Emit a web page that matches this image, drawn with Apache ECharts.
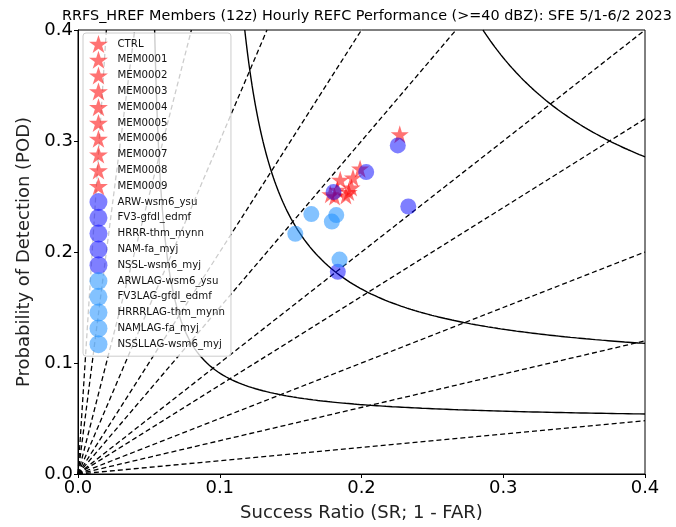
<!DOCTYPE html>
<html>
<head>
<meta charset="utf-8">
<script src="https://cdn.jsdelivr.net/npm/echarts@6/dist/echarts.min.js"></script>
<style>
  html, body { margin: 0; padding: 0; background: #fff; }
  #chart { width: 676px; height: 527px; }
</style>
</head>
<body>
<div id="chart"></div>
<script>
// members (stars)
var starNames = ['CTRL', 'MEM0001', 'MEM0002', 'MEM0003', 'MEM0004', 'MEM0005', 'MEM0006', 'MEM0007', 'MEM0008', 'MEM0009'];
var starSR = [0.227, 0.199, 0.194, 0.185, 0.191, 0.181, 0.193, 0.183, 0.189, 0.178];
var starPOD = [0.306, 0.275, 0.267, 0.265, 0.254, 0.250, 0.258, 0.256, 0.251, 0.252];

// HREF members (dark blue)
var coreNames = ['ARW-wsm6_ysu', 'FV3-gfdl_edmf', 'HRRR-thm_mynn', 'NAM-fa_myj', 'NSSL-wsm6_myj'];
var coreSR = [0.2256, 0.2033, 0.1803, 0.2330, 0.1833];
var corePOD = [0.2960, 0.2720, 0.2540, 0.2410, 0.1821];

// time-lagged HREF members (light blue)
var lagNames = ['ARWLAG-wsm6_ysu', 'FV3LAG-gfdl_edmf', 'HRRRLAG-thm_mynn', 'NAMLAG-fa_myj', 'NSSLLAG-wsm6_myj'];
var lagSR = [0.1646, 0.1822, 0.1791, 0.1533, 0.1845];
var lagPOD = [0.2342, 0.2333, 0.2274, 0.2164, 0.1932];

// background reference lines
var biasLevels = [0.12, 0.3, 0.5, 0.8, 1, 1.5, 2, 3, 5, 10, 20];
var csiLevels = [0.05, 0.1, 0.2];
var axisTicks = [0, 0.1, 0.2, 0.3, 0.4];

var axMax = axisTicks[axisTicks.length - 1];
var starPath = 'path://M50,0 L61.2,34.5 L97.6,34.5 L68.2,55.9 L79.4,90.5 L50,69.1 L20.6,90.5 L31.8,55.9 L2.4,34.5 L38.8,34.5 Z';
var font = 'DejaVu Sans';

var chart = echarts.init(document.getElementById('chart'));

var series = [];

// bias lines (dashed)
biasLevels.forEach(function (b) {
    var end = b >= 1 ? [axMax / b, axMax] : [axMax, axMax * b];
    series.push({
        type: 'line',
        data: [[0, 0], end],
        showSymbol: false,
        silent: true,
        z: 1,
        lineStyle: { color: '#000', width: 1.3, type: [5, 3] }
    });
});

// CSI curves (solid)
csiLevels.forEach(function (c) {
    var srMin = 1 / (1 / c + 1 - 1 / axMax);
    var pts = [];
    var n = 200;
    for (var i = 0; i <= n; i++) {
        var sr = srMin * Math.pow(axMax / srMin, i / n);
        var pod = 1 / (1 / c + 1 - 1 / sr);
        pts.push([sr, pod]);
    }
    series.push({
        type: 'line',
        data: pts,
        showSymbol: false,
        silent: true,
        z: 1,
        lineStyle: { color: '#000', width: 1.4 }
    });
});

function addPoints(names, sr, pod, symbol, size, color) {
    names.forEach(function (name, i) {
        series.push({
            name: name,
            type: 'scatter',
            symbol: symbol,
            symbolSize: size,
            z: 3,
            itemStyle: { color: color, opacity: 1 },
            data: [[sr[i], pod[i]]]
        });
    });
}
addPoints(starNames, starSR, starPOD, starPath, 18, 'rgba(255,0,0,0.55)');
addPoints(coreNames, coreSR, corePOD, 'circle', 16, 'rgba(0,0,255,0.5)');
addPoints(lagNames, lagSR, lagPOD, 'circle', 16, 'rgba(30,144,255,0.55)');

var option = {
    animation: false,
    title: {
        text: 'RRFS_HREF Members (12z) Hourly REFC Performance (>=40 dBZ): SFE 5/1-6/2 2023',
        left: 57,
        top: 4,
        textStyle: { fontFamily: font, fontSize: 14.4, fontWeight: 'normal', color: '#000' }
    },
    grid: {
        left: 78, right: 31, top: 30, bottom: 49,
        show: true, borderColor: '#000', borderWidth: 1
    },
    legend: {
        orient: 'vertical',
        left: 83,
        top: 33,
        padding: [2, 6, 3, 6],
        itemWidth: 20,
        itemHeight: 18,
        itemGap: -2.2,
        backgroundColor: 'rgba(255,255,255,0.8)',
        borderColor: '#ccc',
        borderWidth: 1,
        borderRadius: 3,
        textStyle: { fontFamily: font, fontSize: 10.2, color: '#111', padding: [0, 0, 0, 4] },
        data: starNames.concat(coreNames, lagNames)
    },
    xAxis: {
        type: 'value',
        min: 0, max: axMax, interval: 0.1,
        name: 'Success Ratio (SR; 1 - FAR)',
        nameLocation: 'middle',
        nameGap: 30,
        nameTextStyle: { fontFamily: font, fontSize: 18, color: '#222' },
        axisLine: { lineStyle: { color: '#000' } },
        axisTick: { show: true, length: 4, lineStyle: { color: '#000' } },
        axisLabel: {
            fontFamily: font, fontSize: 18, color: '#000', margin: 5,
            formatter: function (v) { return v.toFixed(1); }
        },
        splitLine: { show: false }
    },
    yAxis: {
        type: 'value',
        min: 0, max: axMax, interval: 0.1,
        name: 'Probability of Detection (POD)',
        nameLocation: 'middle',
        nameGap: 42,
        nameTextStyle: { fontFamily: font, fontSize: 18, color: '#222' },
        axisLine: { lineStyle: { color: '#000' } },
        axisTick: { show: true, length: 4, lineStyle: { color: '#000' } },
        axisLabel: {
            fontFamily: font, fontSize: 18, color: '#000', margin: 5,
            formatter: function (v) { return v.toFixed(1); }
        },
        splitLine: { show: false }
    },
    series: series
};

chart.setOption(option);
</script>
</body>
</html>
